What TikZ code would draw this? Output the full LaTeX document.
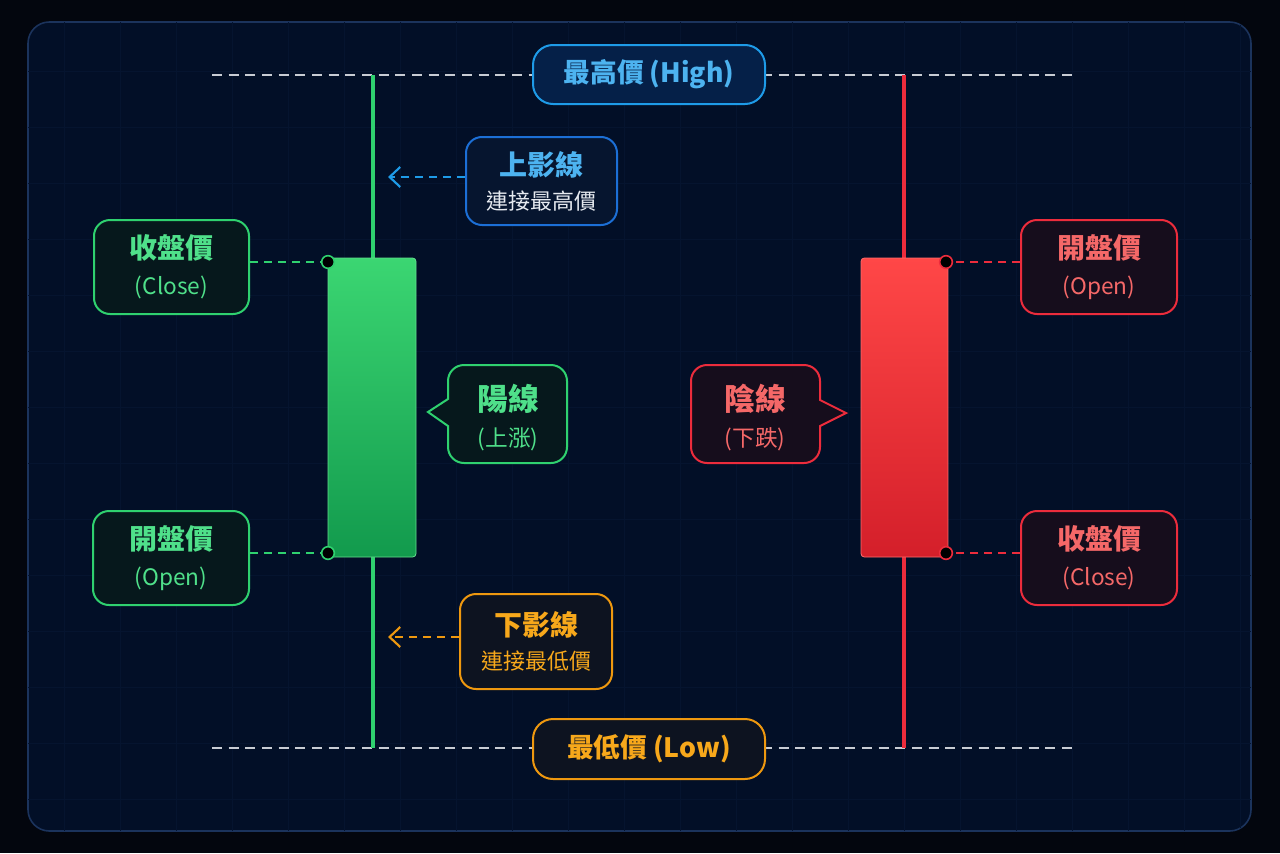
\documentclass[tikz,border=0pt]{standalone}
\usepackage{fontspec}
\setmainfont{Noto Sans CJK TC}
\usetikzlibrary{arrows.meta}
\definecolor{bgout}{HTML}{03060E}
\definecolor{panel}{HTML}{020F27}
\definecolor{panelln}{HTML}{1B335C}
\definecolor{gridc}{HTML}{05142F}
\definecolor{guide}{HTML}{C8CCD4}
\definecolor{cgreen}{HTML}{2FD16F}
\definecolor{gtext}{HTML}{4FE08A}
\definecolor{gfill}{HTML}{06181C}
\definecolor{gtop}{HTML}{3BD672}
\definecolor{gbot}{HTML}{129A4D}
\definecolor{cred}{HTML}{EC2C3C}
\definecolor{rtext}{HTML}{F56868}
\definecolor{rfill}{HTML}{160D1C}
\definecolor{rtop}{HTML}{FF4747}
\definecolor{rbot}{HTML}{D41F2A}
\definecolor{cblue}{HTML}{1E9BE8}
\definecolor{cblue2}{HTML}{1C6FD6}
\definecolor{btext}{HTML}{4DB3F0}
\definecolor{bfill}{HTML}{052048}
\definecolor{bfill2}{HTML}{06152F}
\definecolor{corange}{HTML}{EE980F}
\definecolor{otext}{HTML}{F7A81B}
\definecolor{ofill}{HTML}{0D1320}
\definecolor{wtext}{HTML}{E6EAF0}
\tikzset{
  lab/.style={draw, line width=1.5pt, rounded corners=12pt, align=center, inner sep=0pt,
    font=\fontsize{17}{27}\selectfont},
  gbox/.style={lab, draw=cgreen, fill=gfill, text=gtext},
  rbox/.style={lab, draw=cred, fill=rfill, text=rtext},
  guideline/.style={draw=guide, line width=1.5pt, dash pattern=on 7.5pt off 5pt},
  gconn/.style={draw=cgreen, line width=1.5pt, dash pattern=on 6pt off 4.5pt},
  rconn/.style={draw=cred, line width=1.5pt, dash pattern=on 6pt off 4.5pt},
  bconn/.style={draw=cblue, line width=1.5pt, dash pattern=on 6pt off 4.5pt},
  oconn/.style={draw=corange, line width=1.5pt, dash pattern=on 6pt off 4.5pt},
  pdot/.style={circle, fill=black, line width=1.2pt, minimum size=9.5pt, inner sep=0pt},
  chev/.style={arrows={-{Straight Barb[length=8pt,width=15pt,line width=1.6pt]}}},
}
\newcommand{\ttlA}[1]{{\bfseries\fontsize{21}{27}\selectfont #1}}
\begin{document}
\begin{tikzpicture}[x=0.75pt,y=-0.75pt]
\useasboundingbox (0,0) rectangle (1280,853);
\fill[bgout] (0,0) rectangle (1280,853);
% panel
\path[fill=panel, draw=panelln, line width=1.2pt, rounded corners=16pt] (28,22) rectangle (1251,831);
\begin{scope}
\clip[rounded corners=16pt] (28,22) rectangle (1251,831);
\foreach \x in {64,120,...,1240} \draw[gridc, line width=0.7pt] (\x,22) -- (\x,831);
\foreach \y in {71,127,...,831} \draw[gridc, line width=0.7pt] (28,\y) -- (1251,\y);
\end{scope}
% guide lines
\coordinate (hiL) at (212,75); \coordinate (hiR) at (1072,75);
\coordinate (loL) at (212,748); \coordinate (loR) at (1072,748);
\draw[guideline] (hiL) -- (hiR);
\draw[guideline] (loL) -- (loR);
% wicks
\coordinate (gwt) at (373,75); \coordinate (gwb) at (373,748);
\coordinate (rwt) at (904,75); \coordinate (rwb) at (904,748);
\draw[cgreen, line width=3pt] (gwt) -- (gwb);
\draw[cred, line width=3pt] (rwt) -- (rwb);
% bodies
\node[rounded corners=2.5pt, top color=gtop, bottom color=gbot, draw=gtop!80!white, line width=0.6pt,
  minimum width=66pt, minimum height=224.25pt, inner sep=0pt] (gbody) at (372,407.5) {};
\node[rounded corners=2.5pt, top color=rtop, bottom color=rbot, draw=rtop!80!white, line width=0.6pt,
  minimum width=65.25pt, minimum height=224.25pt, inner sep=0pt] (rbody) at (904.5,407.5) {};
% dots
\node[pdot, draw=cgreen] (dCL) at (328,262) {};
\node[pdot, draw=cgreen] (dOL) at (328,553) {};
\node[pdot, draw=cred] (dOR) at (946,262) {};
\node[pdot, draw=cred] (dCR) at (946,553) {};
% high / low labels
\node[lab, draw=cblue, fill=bfill, text=btext, rounded corners=15pt, minimum width=174pt, minimum height=44.25pt,
  font=\bfseries\fontsize{20}{24}\selectfont] (high) at (649,74.5) {最高價 (High)};
\node[lab, draw=corange, fill=ofill, text=otext, rounded corners=15pt, minimum width=174pt, minimum height=45pt,
  font=\bfseries\fontsize{20}{24}\selectfont] (low) at (649,749) {最低價 (Low)};
% price boxes
\node[gbox, minimum width=116.25pt, minimum height=70.5pt] (closeL) at (171.5,267) {\ttlA{收盤價}\\(Close)};
\node[gbox, minimum width=117pt, minimum height=70.5pt] (openL) at (171,558) {\ttlA{開盤價}\\(Open)};
\node[rbox, minimum width=117pt, minimum height=70.5pt] (openR) at (1099,267) {\ttlA{開盤價}\\(Open)};
\node[rbox, minimum width=117pt, minimum height=70.5pt] (closeR) at (1099,558) {\ttlA{收盤價}\\(Close)};
\draw[gconn] (closeL.east |- dCL.center) -- (dCL.west);
\draw[gconn] (openL.east |- dOL.center) -- (dOL.west);
\draw[rconn] (openR.west |- dOR.center) -- (dOR.east);
\draw[rconn] (closeR.west |- dCR.center) -- (dCR.east);
% shadow boxes
\node[lab, draw=cblue2, fill=bfill2, text=wtext, minimum width=113.25pt, minimum height=66pt,
  font=\fontsize{16.5}{25.5}\selectfont] (upper) at (541.5,181)
  {{\color{btext}\bfseries\fontsize{21}{25.5}\selectfont 上影線}\\連接最高價};
\node[lab, draw=corange, fill=ofill, text=otext, minimum width=114pt, minimum height=71.25pt,
  font=\fontsize{16.5}{26}\selectfont] (lower) at (536,641.5)
  {{\bfseries\fontsize{21}{26}\selectfont 下影線}\\連接最低價};
\coordinate (upTip) at (388,177);
\coordinate (loTip) at (388,637);
\draw[bconn, chev] (upper.west |- upTip) -- (upTip);
\draw[oconn, chev] (lower.west |- loTip) -- (loTip);
% callouts
\draw[cgreen, fill=gfill, line width=1.5pt, rounded corners=12pt]
  (507,365) -- (567,365) -- (567,463) -- (448,463) [sharp corners] -- (448,426)
  -- (428,412) -- (448,399) [rounded corners=12pt] -- (448,365) -- (507,365);
\draw[cred, fill=rfill, line width=1.5pt, rounded corners=12pt]
  (755,365) -- (691,365) -- (691,463) -- (820,463) [sharp corners] -- (820,426)
  -- (846,413) -- (820,400) [rounded corners=12pt] -- (820,365) -- (755,365);
\node[align=center, text=gtext, inner sep=0pt, font=\fontsize{17}{27}\selectfont] (yang) at (508,418)
  {{\bfseries\fontsize{23}{27}\selectfont 陽線}\\(上涨)};
\node[align=center, text=rtext, inner sep=0pt, font=\fontsize{17}{27}\selectfont] (yin) at (755,418)
  {{\bfseries\fontsize{23}{27}\selectfont 陰線}\\(下跌)};
\end{tikzpicture}
\end{document}
